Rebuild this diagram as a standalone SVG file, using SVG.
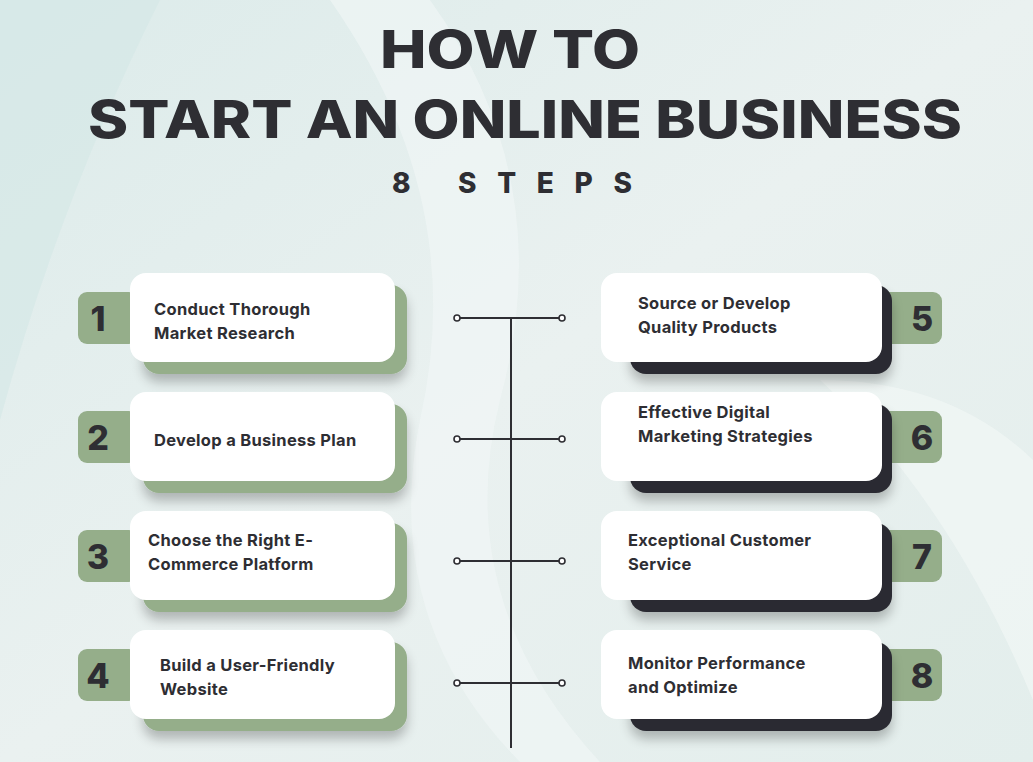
<svg xmlns="http://www.w3.org/2000/svg" width="1033" height="762" viewBox="0 0 1033 762">
<defs>
<linearGradient id="bg" x1="0" y1="0" x2="1" y2="1"><stop offset="0" stop-color="#dcebea"/><stop offset="0.5" stop-color="#eaf1f0"/><stop offset="1" stop-color="#e3eeec"/></linearGradient>
<filter id="sh" x="-10%" y="-20%" width="120%" height="160%"><feGaussianBlur in="SourceAlpha" stdDeviation="6"/><feOffset dy="8"/><feComponentTransfer><feFuncA type="linear" slope="0.25"/></feComponentTransfer><feMerge><feMergeNode/><feMergeNode in="SourceGraphic"/></feMerge></filter>
<style>
.t{font-family:Inter,"Open Sans",sans-serif;font-weight:800;fill:#2e2e33}
.c{font-family:Inter,"Open Sans",sans-serif;font-weight:700;font-size:16.5px;letter-spacing:0.3px;fill:#2e2e33}
.n{font-family:Inter,"Open Sans",sans-serif;font-weight:800;font-size:34px;fill:#2e2e33;text-anchor:middle}
.w{fill:#fff}.g{fill:#95ae8a}.d{fill:#2c2c33}
.ln{stroke:#2e2e33;stroke-width:2;fill:none}
.dot{fill:#fff;stroke:#2e2e33;stroke-width:1.6}
</style>
</defs>
<rect width="1033" height="762" fill="url(#bg)"/>
<path d="M330 0 Q470 200 420 420 Q380 620 520 762 L600 762 Q450 600 500 400 Q560 180 430 0Z" fill="#f2f7f6" opacity="0.6"/>
<path d="M0 0 L160 0 Q60 200 0 420Z" fill="#d4e8e6" opacity="0.6"/>
<path d="M820 380 Q950 500 1033 700 L1033 460 Q950 380 820 380Z" fill="#f4f8f7" opacity="0.6"/>
<g id="title">
<text class="t" x="380" y="68" font-size="52" textLength="260" lengthAdjust="spacingAndGlyphs">HOW TO</text>
<text class="t" x="88" y="138" font-size="52" textLength="874" lengthAdjust="spacingAndGlyphs">START AN ONLINE BUSINESS</text>
<text class="t" x="392" y="193" font-size="28" textLength="240" lengthAdjust="spacing">8 STEPS</text>
</g>
<g id="connectors">
<line class="ln" x1="511" y1="318" x2="511" y2="748"/>
<line class="ln" x1="457" y1="318" x2="562" y2="318"/><circle class="dot" cx="457" cy="318" r="3"/><circle class="dot" cx="562" cy="318" r="3"/>
<line class="ln" x1="457" y1="439" x2="562" y2="439"/><circle class="dot" cx="457" cy="439" r="3"/><circle class="dot" cx="562" cy="439" r="3"/>
<line class="ln" x1="457" y1="561" x2="562" y2="561"/><circle class="dot" cx="457" cy="561" r="3"/><circle class="dot" cx="562" cy="561" r="3"/>
<line class="ln" x1="457" y1="683" x2="562" y2="683"/><circle class="dot" cx="457" cy="683" r="3"/><circle class="dot" cx="562" cy="683" r="3"/>
</g>
<g id="step1" transform="translate(0,0)">
<rect class="g" x="78" y="292" width="60" height="52" rx="9"/><text class="n" x="98" y="331">1</text>
<rect class="g" x="143" y="285" width="264" height="89" rx="16" filter="url(#sh)"/>
<rect class="w" x="130" y="273" width="265" height="89" rx="16"/>
<text class="c" x="154" y="315">Conduct Thorough</text><text class="c" x="154" y="339">Market Research</text>
</g>
<g id="step2" transform="translate(0,119)">
<rect class="g" x="78" y="292" width="60" height="52" rx="9"/><text class="n" x="98" y="331">2</text>
<rect class="g" x="143" y="285" width="264" height="89" rx="16" filter="url(#sh)"/>
<rect class="w" x="130" y="273" width="265" height="89" rx="16"/>
<text class="c" x="154" y="327">Develop a Business Plan</text>
</g>
<g id="step3" transform="translate(0,238)">
<rect class="g" x="78" y="292" width="60" height="52" rx="9"/><text class="n" x="98" y="331">3</text>
<rect class="g" x="143" y="285" width="264" height="89" rx="16" filter="url(#sh)"/>
<rect class="w" x="130" y="273" width="265" height="89" rx="16"/>
<text class="c" x="148" y="308">Choose the Right E-</text><text class="c" x="148" y="332">Commerce Platform</text>
</g>
<g id="step4" transform="translate(0,357)">
<rect class="g" x="78" y="292" width="60" height="52" rx="9"/><text class="n" x="98" y="331">4</text>
<rect class="g" x="143" y="285" width="264" height="89" rx="16" filter="url(#sh)"/>
<rect class="w" x="130" y="273" width="265" height="89" rx="16"/>
<text class="c" x="160" y="314">Build a User-Friendly</text><text class="c" x="160" y="338">Website</text>
</g>
<g id="step5" transform="translate(0,0)">
<rect class="g" x="876" y="292" width="66" height="52" rx="9"/><text class="n" x="922" y="331">5</text>
<rect class="d" x="630" y="285" width="262" height="89" rx="16" filter="url(#sh)"/>
<rect class="w" x="601" y="273" width="281" height="89" rx="16"/>
<text class="c" x="638" y="309">Source or Develop</text><text class="c" x="638" y="333">Quality Products</text>
</g>
<g id="step6" transform="translate(0,119)">
<rect class="g" x="876" y="292" width="66" height="52" rx="9"/><text class="n" x="922" y="331">6</text>
<rect class="d" x="630" y="285" width="262" height="89" rx="16" filter="url(#sh)"/>
<rect class="w" x="601" y="273" width="281" height="89" rx="16"/>
<text class="c" x="638" y="299">Effective Digital</text><text class="c" x="638" y="323">Marketing Strategies</text>
</g>
<g id="step7" transform="translate(0,238)">
<rect class="g" x="876" y="292" width="66" height="52" rx="9"/><text class="n" x="922" y="331">7</text>
<rect class="d" x="630" y="285" width="262" height="89" rx="16" filter="url(#sh)"/>
<rect class="w" x="601" y="273" width="281" height="89" rx="16"/>
<text class="c" x="628" y="308">Exceptional Customer</text><text class="c" x="628" y="332">Service</text>
</g>
<g id="step8" transform="translate(0,357)">
<rect class="g" x="876" y="292" width="66" height="52" rx="9"/><text class="n" x="922" y="331">8</text>
<rect class="d" x="630" y="285" width="262" height="89" rx="16" filter="url(#sh)"/>
<rect class="w" x="601" y="273" width="281" height="89" rx="16"/>
<text class="c" x="628" y="312">Monitor Performance</text><text class="c" x="628" y="336">and Optimize</text>
</g>
</svg>
